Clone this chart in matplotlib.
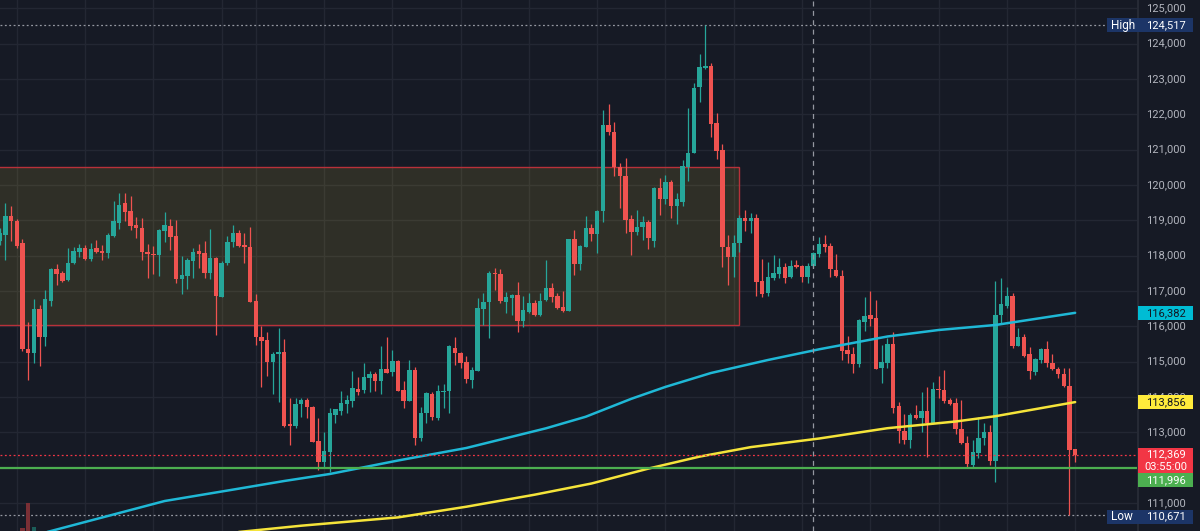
import matplotlib
matplotlib.use("Agg")
import matplotlib.pyplot as plt
from matplotlib.patches import Rectangle

BG = "#161a25"
GRID = "#232733"
UP = "#26a69a"
DOWN = "#ef5350"
TXT = "#b2b5be"
plt.rcParams["font.family"] = ["Roboto", "DejaVu Sans"]

# 4h candles, OHLC
opens = [118410, 118590, 119120, 118980, 118360, 115360, 115250, 116490, 115700, 116720,
         117620, 117510, 117310, 117790, 118100, 118220, 117900, 118220, 118130, 118080,
         118560, 118920, 119490, 119260, 118870, 118780, 118100, 118050, 118020, 118700,
         118840, 118560, 117340, 117420, 117850, 118130, 118080, 117510, 117930, 116830,
         117790, 118390, 118640, 118300, 118250, 116720, 115700, 115610, 114990, 115220,
         115270, 113240, 113180, 113800, 113920, 113720, 112760, 112160, 112440, 113490,
         113600, 113800, 113890, 114230, 114200, 114540, 114650, 114450, 114790, 114710,
         115020, 114200, 113890, 114760, 112840, 113550, 114090, 113410, 114140, 114170,
         115390, 115250, 114990, 114480, 114740, 116490, 116690, 117510, 117480, 116690,
         116800, 116890, 116150, 116410, 116660, 116320, 116750, 117090, 116860, 116550,
         116430, 118470, 117760, 118250, 118780, 118610, 119260, 121700, 121500, 120510,
         120250, 119040, 118670, 118810, 118950, 118420, 119920, 119600, 120080, 119410,
         119520, 120510, 120910, 122770, 123310, 123370, 121750, 120990, 118250, 117960,
         118360, 119070, 118980, 119070, 117280, 116940, 117370, 117480, 117680, 117400,
         117740, 117710, 117400, 117710, 118050, 118330, 118270, 117590, 117420, 115330,
         115220, 114930, 116120, 116320, 116240, 114820, 114960, 115500, 113750, 113040,
         112780, 113490, 113410, 113600, 113260, 114230, 114200, 113920, 113830, 113090,
         112700, 112080, 112420, 112840, 113010, 112190, 116320, 116580, 116860, 115440,
         115700, 115220, 114710, 115050, 115360, 114960, 114790, 114650, 114310, 112530]
highs = [118780, 119490, 119400, 119040, 118470, 116120, 116770, 116600, 117030, 117650,
         117760, 117570, 118220, 118250, 118330, 118300, 118360, 118440, 118300, 118640,
         119550, 119770, 119770, 119690, 119090, 119070, 118330, 118270, 118750, 119240,
         119040, 119010, 117990, 117930, 118220, 118330, 118420, 118750, 117960, 117850,
         118560, 118870, 118730, 118640, 118810, 116920, 116010, 115840, 115270, 115950,
         115640, 113970, 113970, 113970, 113970, 113750, 113410, 113010, 113690, 113660,
         114170, 114060, 114740, 114570, 114960, 114740, 114710, 115440, 115700, 115330,
         115050, 114450, 115050, 114850, 113720, 114140, 114140, 114340, 114370, 115470,
         115700, 115270, 115160, 114850, 116800, 116940, 117570, 117650, 117620, 116970,
         116920, 117260, 116860, 116940, 116750, 116940, 117880, 117230, 116940, 117000,
         118470, 118730, 118300, 119120, 118900, 119290, 122120, 122290, 121780, 120620,
         120760, 119150, 119290, 119120, 119010, 119940, 120200, 120280, 120140, 119770,
         120710, 122180, 122890, 123710, 124517, 123450, 122040, 121160, 118590, 118590,
         119150, 119290, 119210, 119180, 117910, 117820, 118020, 117930, 117790, 117880,
         117880, 117740, 117790, 118100, 118530, 118590, 118360, 118050, 117590, 115730,
         115420, 116210, 116830, 117000, 116750, 115470, 115670, 115840, 113860, 113520,
         113550, 113770, 114140, 114280, 114420, 114590, 114760, 113970, 113970, 113920,
         112900, 112780, 113430, 113260, 113210, 117280, 117370, 117110, 116940, 115950,
         115780, 115420, 115100, 115390, 115590, 115220, 114850, 114820, 114820, 112530]
lows = [118300, 117880, 118410, 118220, 115300, 114480, 114960, 114880, 115440, 116580,
        117170, 117260, 117280, 117760, 117960, 117880, 117850, 118080, 117880, 117930,
        118530, 118750, 118980, 118730, 118500, 117880, 117370, 117480, 117420, 118390,
        118160, 117230, 116920, 117060, 117370, 117650, 117370, 117340, 115760, 116830,
        117740, 118250, 118250, 117790, 116690, 115470, 114280, 114590, 114090, 113860,
        113150, 112640, 113120, 113430, 113410, 112730, 111930, 112020, 111880, 113260,
        113490, 113550, 113720, 114060, 114110, 114140, 114170, 114090, 114680, 114590,
        114170, 113690, 113890, 112640, 112760, 113260, 113350, 113350, 113690, 113550,
        114910, 114820, 114400, 114260, 114740, 116040, 115670, 117030, 116660, 116380,
        116320, 115840, 115980, 116380, 116290, 116290, 116720, 116690, 116490, 116410,
        116430, 117450, 117590, 118250, 118420, 118080, 118950, 121420, 120250, 119350,
        118640, 118020, 118590, 118440, 118190, 118250, 119150, 119460, 119070, 118900,
        119410, 120110, 120910, 122350, 123280, 121360, 120740, 117680, 117170, 117400,
        118100, 118700, 118640, 116860, 116830, 116860, 117310, 117370, 117230, 117370,
        117650, 117260, 117230, 117680, 117960, 118100, 117400, 117400, 115050, 114960,
        114680, 114850, 115870, 116010, 114790, 114400, 114820, 113550, 112700, 112670,
        112560, 113380, 113010, 112300, 113240, 113970, 113830, 113770, 112950, 112670,
        111990, 111990, 112270, 112640, 112080, 111590, 116090, 116520, 115390, 115440,
        115130, 114510, 114620, 114960, 114850, 114760, 114540, 114280, 110671, 112160]
closes = [118640, 119120, 118980, 118270, 115360, 115250, 116490, 115700, 116770, 117620,
          117480, 117280, 117790, 118130, 118220, 117900, 118190, 118100, 118080, 118590,
          118980, 119430, 119240, 118840, 118780, 118100, 118050, 118020, 118730, 118870,
          118530, 117340, 117450, 117880, 118100, 118050, 117510, 117930, 116860, 117790,
          118390, 118640, 118270, 118250, 116690, 115700, 115590, 114990, 115220, 115270,
          113180, 113180, 113800, 113920, 113720, 112730, 112160, 112470, 113550, 113660,
          113830, 113920, 114260, 114140, 114570, 114650, 114450, 114790, 114690, 115020,
          114170, 113890, 114760, 112840, 113550, 114110, 113430, 114170, 114170, 115440,
          115250, 114960, 114510, 114760, 116520, 116690, 117510, 117480, 116720, 116830,
          116890, 116150, 116460, 116660, 116320, 116720, 117090, 116830, 116520, 116430,
          118470, 117760, 118270, 118780, 118610, 119260, 121700, 121500, 120510, 120250,
          119010, 118670, 118810, 118950, 118500, 119920, 119600, 120080, 119410, 119600,
          120540, 120910, 122750, 123340, 123370, 121730, 120960, 118250, 117960, 118360,
          119070, 118980, 119070, 117260, 116920, 117400, 117510, 117680, 117370, 117710,
          117680, 117400, 117710, 118080, 118330, 118250, 117620, 117420, 115300, 115220,
          114930, 116180, 116290, 116210, 114790, 114990, 115500, 113690, 113040, 112780,
          113490, 113410, 113600, 113260, 114230, 114200, 113890, 113800, 113090, 112700,
          112100, 112440, 112840, 113010, 112190, 116320, 116630, 116860, 115440, 115700,
          115160, 114740, 115080, 115360, 114960, 114790, 114650, 114310, 112500, 112369]

# volume bars that show at the bottom edge
vol_idx = [4, 5, 6]
vol_vals = [330, 2770, 430]

# moving averages (sampled at candle indices)
cyan_idx = [8, 20, 29, 40, 50, 58, 70, 82, 96, 103, 111, 117, 125, 135, 144, 156, 165, 175, 189]
cyan_ma = [110165, 110675, 111057, 111352, 111623, 111821, 112203, 112557, 113114, 113442,
           113949, 114286, 114679, 115047, 115350, 115712, 115896, 116038, 116382]
yellow_idx = [42, 53, 70, 82, 94, 104, 114, 123, 132, 144, 156, 168, 175, 189]
yellow_ma = [110180, 110358, 110593, 110895, 111235, 111552, 111974, 112313, 112582,
             112825, 113117, 113307, 113457, 113856]

# drawings
zone_left, zone_right = -5, 130
zone_low, zone_high = 116040, 120520
support = 111996
last_price = 112369
countdown = "03:55:00"
high_price, low_price = 124517, 110671
cursor_idx = 143
day_lines = [3, 15, 27, 39, 45, 57, 69, 81, 93, 105, 117, 129, 141, 153, 165, 177, 189]
price_ticks = list(range(111000, 126000, 1000))

YMIN, YMAX = 110208, 125235
XMIN, XMAX = 0.053, 199.87

fig = plt.figure(figsize=(12, 5.31), dpi=100, facecolor=BG)
ax = fig.add_axes([0, 0, 1137 / 1200, 1])
ax.set_facecolor(BG)
ax.set_xlim(XMIN, XMAX)
ax.set_ylim(YMIN, YMAX)
for s in ax.spines.values():
    s.set_visible(False)
ax.set_xticks([])
ax.set_yticks([])

for p in price_ticks:
    ax.axhline(p, color=GRID, lw=1, zorder=0)
for d in day_lines:
    ax.axvline(d, color=GRID, lw=1, zorder=0)

ax.add_patch(Rectangle((zone_left, zone_low), zone_right - zone_left, zone_high - zone_low,
                       facecolor=(1.0, 0.88, 0.23, 0.11), edgecolor="#b8313a", lw=1.0, zorder=1))

# volume
vax = ax.twinx()
vax.set_ylim(0, 53100)
vax.axis("off")
vcols = ["#7a2f35" if closes[i] < opens[i] else "#1b5e5a" for i in vol_idx]
vax.bar(vol_idx, vol_vals, width=0.78, color=vcols, lw=0, zorder=1)

# candles
px = (YMAX - YMIN) / 531
for i in range(len(opens)):
    o, h, l, c = opens[i], highs[i], lows[i], closes[i]
    col = UP if c > o else DOWN
    ax.vlines(i, l, h, color=col, lw=0.9, zorder=3)
    bot = min(o, c)
    hgt = max(abs(c - o), px)
    ax.bar(i, hgt, bottom=bot, width=0.78, color=col, lw=0, zorder=3)

ax.plot(cyan_idx, cyan_ma, color="#1fb8d6", lw=1.8, zorder=4, solid_capstyle="round")
ax.plot(yellow_idx, yellow_ma, color="#f5e43a", lw=1.8, zorder=4, solid_capstyle="round")

ax.axhline(support, color="#4caf50", lw=1.6, zorder=4)
ax.axhline(last_price, color="#f23645", lw=0.9, ls=(0, (1.5, 2)), zorder=4)
ax.axhline(high_price, color="#9598a1", lw=0.9, ls=(0, (1.5, 2)), zorder=2)
ax.axhline(low_price, color="#9598a1", lw=0.9, ls=(0, (1.5, 2)), zorder=2)
ax.axvline(cursor_idx, color="#9598a1", lw=0.9, ls=(0, (4, 3.5)), zorder=5)

# price scale
sax = fig.add_axes([1137 / 1200, 0, 63 / 1200, 1])
sax.set_xlim(1137, 1200)
sax.set_ylim(YMIN, YMAX)
sax.set_facecolor(BG)
for s in sax.spines.values():
    s.set_visible(False)
sax.set_xticks([])
sax.set_yticks([])
sax.axvline(1137.6, color="#2a2e39", lw=1.2)

for p in price_ticks:
    sax.text(1146, p, f"{p:,}", color=TXT, fontsize=8, va="center", ha="left", zorder=2)


def tag(yc, lines, face, tc, x0=1138, x1=1193, hpx=14):
    h = hpx * px
    sax.add_patch(Rectangle((x0, yc - h / 2), x1 - x0, h, facecolor=face, edgecolor="none",
                            zorder=5, clip_on=False))
    sax.text(1146, yc, lines, color=tc, fontsize=8, va="center", ha="left", zorder=6,
             linespacing=1.1)


tag(116382, "116,382", "#00bcd4", "#131722")
tag(113856, "113,856", "#ffeb3b", "#131722")
red_h = 25 * px
red_top = last_price + 6.8 * px
sax.add_patch(Rectangle((1138, red_top - red_h), 55, red_h, facecolor="#f23645", zorder=5))
sax.text(1146, last_price, f"{last_price:,}", color="white", fontsize=8, va="center", zorder=6)
sax.text(1144.5, last_price - 12.5 * px, countdown, color="white", fontsize=8, va="center", zorder=6)
tag(red_top - red_h - 7.5 * px, f"{support:,}", "#4caf50", "white")

# high / low labels
for val, name, off in [(high_price, "High", 0), (low_price, "Low", -2)]:
    yc = val + off * px
    sax.add_patch(Rectangle((1107, yc - 7 * px), 86, 14 * px, facecolor="#1c3567",
                            edgecolor="none", zorder=5, clip_on=False))
    sax.text(1146, yc, f"{val:,}", color="white", fontsize=8, va="center", zorder=6)
    sax.text(1111, yc, name, color="white", fontsize=8.5, va="center", zorder=6, clip_on=False)

fig.savefig("out.png", dpi=100, facecolor=BG)
